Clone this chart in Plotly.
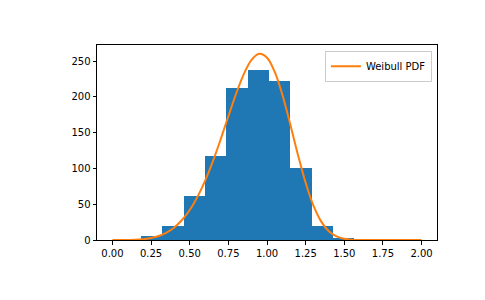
import plotly.graph_objects as go

# Histogram (10 bins)
bin_edges = [0.184, 0.322, 0.460, 0.598, 0.737, 0.875, 1.013, 1.151, 1.290, 1.428, 1.566]
counts = [5, 20, 62, 118, 212, 237, 222, 101, 20, 3]

# Weibull PDF curve (scaled)
curve_x = [round(i * 0.05, 2) for i in range(41)]
curve_y = [0, 0, 0.1, 0.35, 1.1, 2.7, 5.6, 10.3, 17.5, 27.9, 41.9, 60.3, 83.0, 110.1,
           140.6, 172.9, 204.4, 231.9, 251.8, 260.2, 254.8, 234.9, 202.6, 162.1, 119.2,
           79.9, 48.3, 26.0, 12.3, 5.0, 1.8, 0.5, 0.1, 0, 0, 0, 0, 0, 0, 0, 0]

x_ticks = [0, 0.25, 0.5, 0.75, 1.0, 1.25, 1.5, 1.75, 2.0]
y_ticks = [0, 50, 100, 150, 200, 250]

centers = [(a + b) / 2 for a, b in zip(bin_edges[:-1], bin_edges[1:])]
widths = [b - a for a, b in zip(bin_edges[:-1], bin_edges[1:])]

fig = go.Figure()
fig.add_trace(go.Bar(x=centers, y=counts, width=widths, marker=dict(color="#1f77b4", line=dict(width=0)),
                     showlegend=False))
fig.add_trace(go.Scatter(x=curve_x, y=curve_y, mode="lines", name="Weibull PDF",
                         line=dict(color="#ff7f0e", width=2, shape="spline")))

axis_common = dict(showline=True, mirror=True, linecolor="black", linewidth=1, showgrid=False,
                   zeroline=False, ticks="outside", ticklen=3.5, tickwidth=1, tickcolor="black",
                   tickfont=dict(family="DejaVu Sans", size=10, color="black"))

fig.update_layout(
    width=485, height=300,
    margin=dict(l=97, r=48, t=45, b=60),
    plot_bgcolor="white", paper_bgcolor="white",
    bargap=0,
    xaxis=dict(range=[-0.1, 2.1], tickvals=x_ticks, tickformat=".2f", **axis_common),
    yaxis=dict(range=[0, 272.5], tickvals=y_ticks, **axis_common),
    legend=dict(x=0.985, y=0.97, xanchor="right", yanchor="top", bgcolor="rgba(255,255,255,0.8)",
                bordercolor="#cccccc", borderwidth=1, font=dict(family="DejaVu Sans", size=10, color="black"),
                itemwidth=30, tracegroupgap=0),
    font=dict(family="DejaVu Sans", size=10, color="black"),
)

fig.write_html("out.html")
